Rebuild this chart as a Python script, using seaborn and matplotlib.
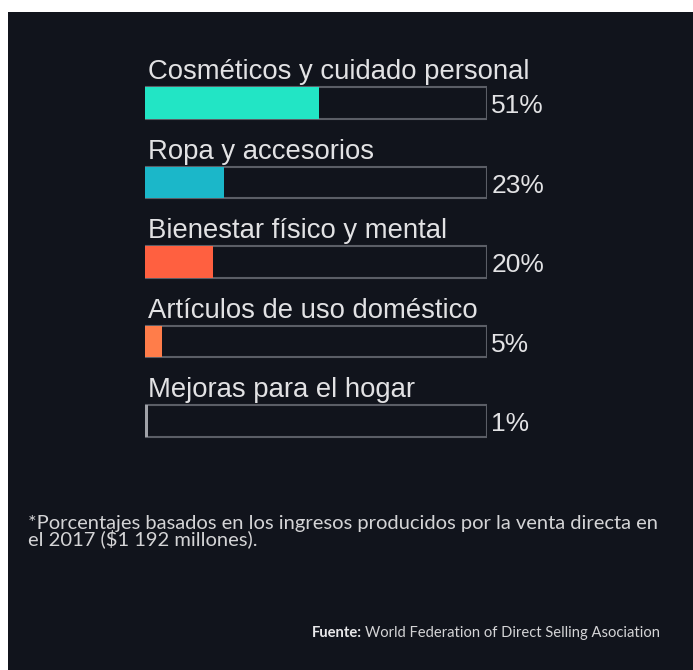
import matplotlib
matplotlib.use("Agg")
import matplotlib.pyplot as plt
import seaborn as sns
import pandas as pd
from matplotlib.patches import Rectangle

categories = ["Cosméticos y cuidado personal", "Ropa y accesorios",
              "Bienestar físico y mental", "Artículos de uso doméstico",
              "Mejoras para el hogar"]
values = [51, 23, 20, 5, 1]
track = [100, 100, 100, 100, 100]
pct_labels = ["51%", "23%", "20%", "5%", "1%"]
colors = ["#22e5c5", "#1bb7c9", "#ff6040", "#ff7d4a", "#a0a2a8"]
footnote = ("*Porcentajes basados en los ingresos producidos por la venta directa en\n"
            "el 2017 ($1 192 millones).")
source_bold = "Fuente:"
source_text = "World Federation of Direct Selling Asociation"

BG = "#11141c"
W, H = 693, 670

sns.set_theme(style="white")
plt.rcParams['font.family'] = ['Liberation Sans', 'DejaVu Sans']

fig = plt.figure(figsize=(W / 100, H / 100), dpi=100)
fig.patch.set_facecolor("white")
fig.patches.append(Rectangle((8 / W, 0), 1 - 8 / W, 1 - 12 / H,
                             transform=fig.transFigure, facecolor=BG,
                             edgecolor="none", zorder=-5))

top_px, bot_px = 63.25, 460.75
ax = fig.add_axes([145 / W, 1 - bot_px / H, 342 / W, (bot_px - top_px) / H])
ax.set_facecolor("none")
ax.set_zorder(2)

df = pd.DataFrame({"cat": categories, "val": values, "track": track})

sns.barplot(data=df, x="track", y="cat", orient="h", color=BG, saturation=1,
            edgecolor="#5b5e66", linewidth=1.5, width=0.4, ax=ax, zorder=2)
sns.barplot(data=df, x="val", y="cat", hue="cat", palette=colors, orient="h",
            saturation=1, linewidth=0, width=0.4, legend=False, ax=ax, zorder=3)

ax.set_xlim(0, 100)
ax.set_ylim(4.5, -0.5)
for s in ax.spines.values():
    s.set_visible(False)
ax.set_xticks([])
ax.set_yticks([])
ax.set_xlabel("")
ax.set_ylabel("")

for i, (cat, lab) in enumerate(zip(categories, pct_labels)):
    ax.text(1.0, i - 0.30, cat, ha="left", va="baseline", fontsize=19.8,
            color="#e2e2e4", clip_on=False)
    ax.text(101.3, i + 0.04, lab, ha="left", va="center", fontsize=19,
            color="#e2e2e4", clip_on=False)

fig.text(28 / W, 1 - 515 / H, footnote, ha="left", va="top", fontsize=14.5,
         color="#d4d4d6", family=["Lato", "DejaVu Sans"], linespacing=0.82)

t_src = fig.text(660 / W, 1 - 633 / H, source_text, ha="right", va="center",
                 fontsize=10.6, color="#d4d4d6", family=["Lato", "DejaVu Sans"])
fig.canvas.draw()
bb = t_src.get_window_extent()
fig.text((bb.x0 - 3) / W, 1 - 633 / H, source_bold, ha="right", va="center",
         fontsize=10.6, color="#e8e8ea", fontweight="bold",
         family=["Lato", "DejaVu Sans"])

fig.savefig("out.png", dpi=100, facecolor=fig.get_facecolor())
